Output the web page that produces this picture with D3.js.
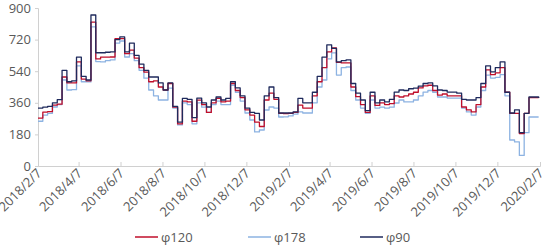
<!DOCTYPE html>
<html>
<head>
<meta charset="utf-8">
<script src="https://cdn.jsdelivr.net/npm/d3@7"></script>
<style>
  body { margin: 0; background: #fff; }
  svg { display: block; font-family: "Open Sans", "Noto Sans", sans-serif; }
</style>
</head>
<body>
<div id="chart"></div>
<script>
// weekly readings, starting 2018/2/7
const startDate = "2018/2/7";
const tickLabels = ["2018/2/7", "2018/4/7", "2018/6/7", "2018/8/7", "2018/10/7", "2018/12/7",
  "2019/2/7", "2019/4/7", "2019/6/7", "2019/8/7", "2019/10/7", "2019/12/7", "2020/2/7"];
const yTicks = [0, 180, 360, 540, 720, 900];
const seriesNames = ["φ120", "φ178", "φ90"];

const phi120 = [273, 307, 310, 347, 352, 507, 473, 473, 593, 495, 485, 820, 610, 620, 620, 621,
  725, 725, 640, 660, 615, 560, 535, 480, 485, 450, 433, 470, 335, 240, 370, 365, 255, 375, 350,
  305, 360, 385, 365, 370, 470, 430, 390, 320, 290, 250, 225, 376, 415, 380, 300, 298, 300, 305,
  347, 330, 330, 400, 480, 560, 650, 673, 590, 587, 587, 450, 395, 350, 305, 400, 345, 360, 350,
  355, 400, 393, 400, 410, 420, 445, 456, 460, 430, 404, 410, 400, 400, 400, 336, 320, 308, 350,
  450, 547, 520, 530, 560, 420, 300, 300, 185, 300, 390, 390, 388];
const phi178 = [255, 290, 300, 336, 350, 490, 433, 435, 570, 480, 479, 792, 595, 593, 600, 604,
  700, 712, 621, 640, 600, 545, 500, 433, 400, 376, 376, 444, 330, 234, 360, 350, 240, 360, 335,
  305, 350, 370, 350, 350, 460, 420, 370, 302, 262, 194, 205, 319, 336, 330, 279, 280, 285, 295,
  308, 302, 302, 360, 450, 490, 610, 644, 518, 560, 564, 430, 376, 330, 300, 376, 330, 335, 330,
  335, 359, 376, 365, 365, 376, 400, 421, 430, 420, 393, 393, 387, 387, 387, 330, 308, 290, 336,
  430, 518, 501, 505, 520, 400, 148, 137, 60, 190, 279, 279, 279];
const phi90 = [330, 335, 340, 360, 378, 545, 480, 485, 620, 510, 490, 860, 645, 645, 648, 650,
  720, 735, 650, 700, 630, 580, 545, 507, 507, 473, 433, 473, 340, 250, 385, 380, 275, 387, 360,
  336, 376, 393, 376, 385, 480, 445, 400, 330, 305, 300, 262, 400, 450, 390, 302, 302, 302, 308,
  385, 360, 360, 420, 510, 620, 690, 670, 593, 600, 604, 470, 415, 376, 315, 420, 360, 376, 365,
  380, 421, 433, 430, 440, 444, 455, 470, 473, 456, 433, 430, 421, 421, 415, 380, 376, 376, 390,
  470, 570, 536, 560, 593, 420, 302, 320, 190, 300, 393, 393, 388];

const colors = ["#c00f2b", "#8db3e2", "#1f2a5c"];

const width = 550, height = 247;
const parse = d3.timeParse("%Y/%-m/%-d");
const t0 = parse(startDate);
const dates = phi90.map((d, i) => d3.timeDay.offset(t0, 7 * i));

const x = d3.scaleTime()
  .domain([parse(tickLabels[0]), parse(tickLabels[tickLabels.length - 1])])
  .range([38, 540]);
const y = d3.scaleLinear().domain([0, 900]).range([166, 8]);

const svg = d3.select("#chart").append("svg")
  .attr("width", width)
  .attr("height", height);

// y axis
const yAxis = svg.append("g")
  .attr("transform", "translate(38,0)")
  .call(d3.axisLeft(y).tickValues(yTicks).tickSize(3).tickPadding(4));
yAxis.select(".domain").attr("stroke", "#d0d0d0");
yAxis.selectAll(".tick line").attr("stroke", "#d0d0d0");
yAxis.selectAll(".tick text")
  .attr("fill", "#595959")
  .style("font-size", "13px")
  .style("font-family", "'Open Sans', sans-serif");

// x axis
const xAxis = svg.append("g")
  .attr("transform", "translate(0,166)")
  .call(d3.axisBottom(x).tickValues(tickLabels.map(parse)).tickSize(-4).tickFormat(d3.timeFormat("%Y/%-m/%-d")));
xAxis.select(".domain").attr("stroke", "#d0d0d0");
xAxis.selectAll(".tick line").attr("stroke", "#d0d0d0");
xAxis.selectAll(".tick text")
  .attr("fill", "#595959")
  .style("font-size", "13px")
  .style("font-family", "'Open Sans', sans-serif")
  .attr("text-anchor", "end")
  .attr("dy", null)
  .attr("y", 0)
  .attr("transform", "translate(4,8) rotate(-45)");

// lines, navy on top
const line = d3.line()
  .x((d, i) => x(dates[i]))
  .y(d => y(d))
  .curve(d3.curveStepAfter);

const drawOrder = [1, 0, 2];
const allSeries = [phi120, phi178, phi90];
drawOrder.forEach(k => {
  svg.append("path")
    .datum(allSeries[k])
    .attr("fill", "none")
    .attr("stroke", colors[k])
    .attr("stroke-width", 1.3)
    .attr("stroke-linejoin", "round")
    .attr("d", line);
});

// legend
const legendX = [135, 248, 360];
const legend = svg.append("g").attr("transform", "translate(0,237)");
seriesNames.forEach((name, k) => {
  legend.append("line")
    .attr("x1", legendX[k]).attr("x2", legendX[k] + 23)
    .attr("stroke", colors[k])
    .attr("stroke-width", 1.5);
  legend.append("text")
    .attr("x", legendX[k] + 26)
    .attr("y", 5)
    .attr("fill", "#595959")
    .style("font-size", "13px")
    .text(name);
});
</script>
</body>
</html>
